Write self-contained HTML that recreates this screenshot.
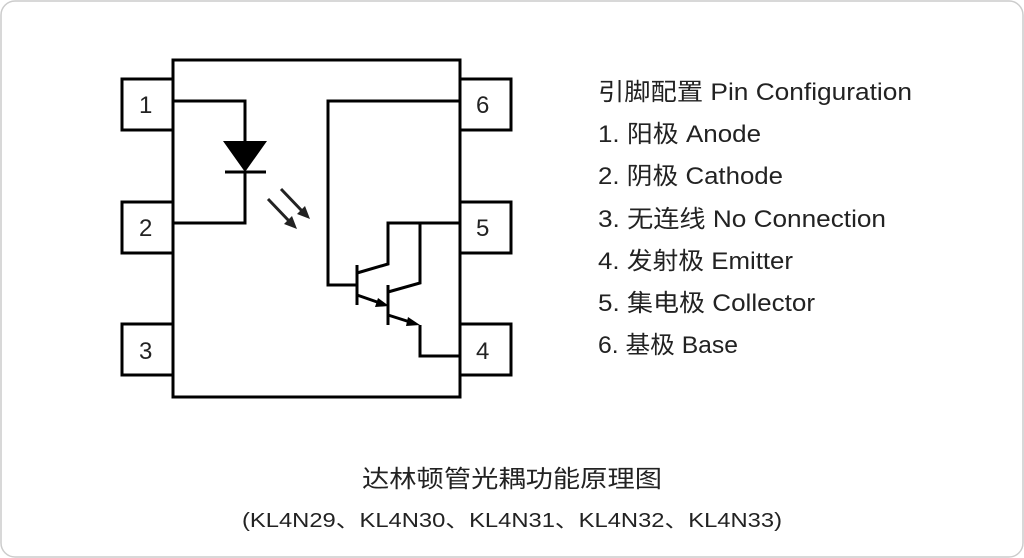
<!DOCTYPE html>
<html><head><meta charset="utf-8"><style>
html,body{margin:0;padding:0;background:#fff;}
svg{display:block;}
text{font-family:"Liberation Sans","Noto Sans CJK SC",sans-serif;fill:#222;}
</style></head><body>
<svg width="1024" height="558" viewBox="0 0 1024 558" xmlns="http://www.w3.org/2000/svg">
<rect x="1" y="1" width="1022" height="556" rx="14" fill="#fff" stroke="#ccc" stroke-width="1.5"/>
<g fill="none" stroke="#000" stroke-width="3">
<rect x="173" y="60" width="287" height="337"/>
<rect x="122" y="79" width="51" height="51"/>
<rect x="122" y="202" width="51" height="51"/>
<rect x="122" y="324" width="51" height="51"/>
<rect x="460" y="79" width="51" height="51"/>
<rect x="460" y="202" width="51" height="51"/>
<rect x="460" y="324" width="51" height="51"/>
<polyline points="173,101 245,101 245,141"/>
<polyline points="245,172 245,223 173,223"/>
<line x1="225" y1="172" x2="266" y2="172"/>
<polyline points="460,101 328,101 328,285 357,285"/>
<line x1="357" y1="265" x2="357" y2="305"/>
<polyline points="357,273 388,264 388,223 460,223"/>
<polyline points="420,223 420,283 388,292"/>
<line x1="388" y1="285" x2="388" y2="325"/>
<line x1="357" y1="295" x2="380" y2="303"/>
<line x1="388" y1="315" x2="410" y2="322"/>
<polyline points="420,325 420,356 460,356"/>
</g>
<polygon points="223,141 267,141 245,172" fill="#000"/>
<polygon points="389,306 378,298 375,307" fill="#000"/>
<polygon points="420,325 408,317 406,326" fill="#000"/>
<g stroke="#222" stroke-width="3">
<line x1="268" y1="199" x2="290" y2="222"/>
<line x1="281" y1="189" x2="303" y2="212"/>
</g>
<polygon points="297,229 284,224 292,216" fill="#222"/>
<polygon points="310,219 297,214 305,206" fill="#222"/>
<g font-size="24">
<text x="139" y="113">1</text>
<text x="139" y="236">2</text>
<text x="139" y="359">3</text>
<text x="476" y="113">6</text>
<text x="476" y="236">5</text>
<text x="476" y="359">4</text>
</g>
<g font-size="24">
<text x="598" y="100" textLength="314" lengthAdjust="spacingAndGlyphs">引脚配置 Pin Configuration</text>
<text x="598" y="142" textLength="163" lengthAdjust="spacingAndGlyphs">1. 阳极 Anode</text>
<text x="598" y="184" textLength="185" lengthAdjust="spacingAndGlyphs">2. 阴极 Cathode</text>
<text x="598" y="227" textLength="288" lengthAdjust="spacingAndGlyphs">3. 无连线 No Connection</text>
<text x="598" y="269" textLength="195" lengthAdjust="spacingAndGlyphs">4. 发射极 Emitter</text>
<text x="598" y="311" textLength="217" lengthAdjust="spacingAndGlyphs">5. 集电极 Collector</text>
<text x="598" y="353" textLength="140" lengthAdjust="spacingAndGlyphs">6. 基极 Base</text>
<text x="362" y="487" textLength="300" lengthAdjust="spacingAndGlyphs">达林顿管光耦功能原理图</text>
</g>
<text x="242" y="527" font-size="20" textLength="540" lengthAdjust="spacingAndGlyphs">(KL4N29、KL4N30、KL4N31、KL4N32、KL4N33)</text>
</svg>
</body></html>
